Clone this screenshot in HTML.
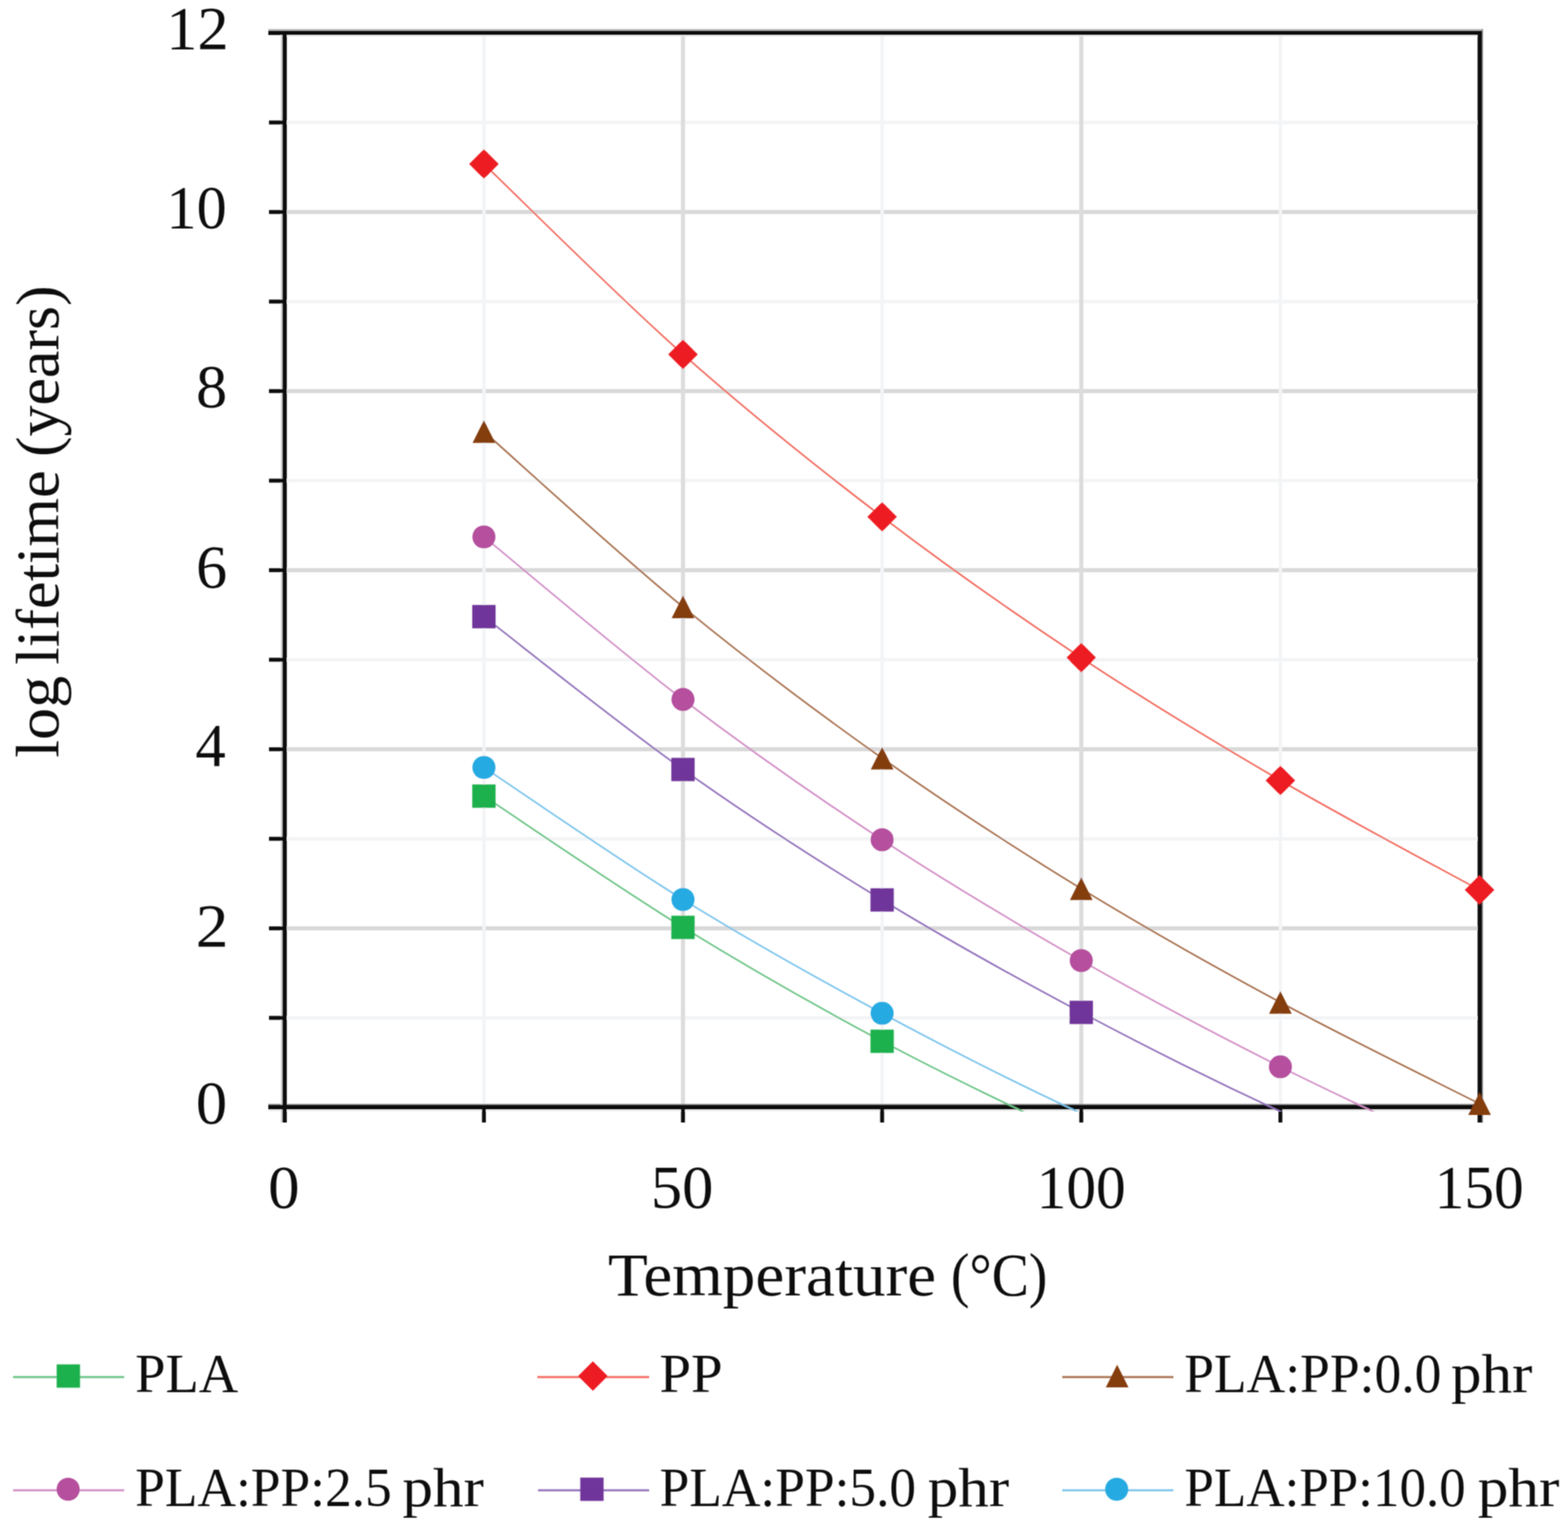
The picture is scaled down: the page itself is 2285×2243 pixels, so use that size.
<!DOCTYPE html><html><head><meta charset="utf-8"><style>html,body{margin:0;padding:0;background:#fff;}svg{display:block}</style></head><body>
<svg width="2285" height="2243" viewBox="0 0 2285 2243">
<rect width="2285" height="2243" fill="#fff"/>
<filter id="soft" x="0" y="0" width="2285" height="2243" filterUnits="userSpaceOnUse"><feConvolveMatrix order="3" kernelMatrix="1 2 1 2 4 2 1 2 1" divisor="16" edgeMode="duplicate"/></filter>
<g filter="url(#soft)">
<defs><clipPath id="pc"><rect x="415" y="40" width="1745" height="1580"/></clipPath></defs>
<line x1="418" x2="2153" y1="1353.0" y2="1353.0" stroke="#d9d9d9" stroke-width="6"/>
<line x1="418" x2="2153" y1="1092.0" y2="1092.0" stroke="#d9d9d9" stroke-width="6"/>
<line x1="418" x2="2153" y1="831.0" y2="831.0" stroke="#d9d9d9" stroke-width="6"/>
<line x1="418" x2="2153" y1="570.0" y2="570.0" stroke="#d9d9d9" stroke-width="6"/>
<line x1="418" x2="2153" y1="309.0" y2="309.0" stroke="#d9d9d9" stroke-width="6"/>
<line x1="418" x2="2153" y1="1483.5" y2="1483.5" stroke="#f3f4f6" stroke-width="5"/>
<line x1="418" x2="2153" y1="1222.5" y2="1222.5" stroke="#f3f4f6" stroke-width="5"/>
<line x1="418" x2="2153" y1="961.5" y2="961.5" stroke="#f3f4f6" stroke-width="5"/>
<line x1="418" x2="2153" y1="700.5" y2="700.5" stroke="#f3f4f6" stroke-width="5"/>
<line x1="418" x2="2153" y1="439.5" y2="439.5" stroke="#f3f4f6" stroke-width="5"/>
<line x1="418" x2="2153" y1="178.5" y2="178.5" stroke="#f3f4f6" stroke-width="5"/>
<line y1="51" y2="1611" x1="705.2" x2="705.2" stroke="#f3f4f6" stroke-width="5"/>
<line y1="51" y2="1611" x1="1285.5" x2="1285.5" stroke="#f3f4f6" stroke-width="5"/>
<line y1="51" y2="1611" x1="1865.9" x2="1865.9" stroke="#f3f4f6" stroke-width="5"/>
<line y1="51" y2="1611" x1="995.3" x2="995.3" stroke="#dcdcdc" stroke-width="6"/>
<line y1="51" y2="1611" x1="1575.7" x2="1575.7" stroke="#dcdcdc" stroke-width="6"/>
<rect x="391" y="42.3" width="1770" height="2.4" fill="#b8b8b8"/>
<rect x="412" y="50.9" width="1746" height="2.2" fill="#e6e6e6"/>
<rect x="391" y="1608.8" width="1770" height="1.6" fill="#8a8a8a"/>
<rect x="391" y="1617.0" width="1770" height="2.4" fill="#eaeaea"/>
<rect x="409.2" y="45" width="2.5" height="1591" fill="#d6d6d6"/>
<rect x="2159.3" y="42.3" width="1.9" height="1594" fill="#8e8e8e"/>
<path d="M391,47.8 H2159.2" stroke="#0c0c0c" stroke-width="6.3"/>
<path d="M391,1613.7 H2159.2" stroke="#0c0c0c" stroke-width="6.8"/>
<path d="M414.8,44.9 V1636" stroke="#0c0c0c" stroke-width="6.3"/>
<path d="M2156.5,44.9 V1636" stroke="#0c0c0c" stroke-width="6.6"/>
<path d="M392,1614.0 H415.0" stroke="#0c0c0c" stroke-width="5.7"/>
<path d="M392,1483.5 H415.0" stroke="#0c0c0c" stroke-width="5.7"/>
<path d="M392,1353.0 H415.0" stroke="#0c0c0c" stroke-width="5.7"/>
<path d="M392,1222.5 H415.0" stroke="#0c0c0c" stroke-width="5.7"/>
<path d="M392,1092.0 H415.0" stroke="#0c0c0c" stroke-width="5.7"/>
<path d="M392,961.5 H415.0" stroke="#0c0c0c" stroke-width="5.7"/>
<path d="M392,831.0 H415.0" stroke="#0c0c0c" stroke-width="5.7"/>
<path d="M392,700.5 H415.0" stroke="#0c0c0c" stroke-width="5.7"/>
<path d="M392,570.0 H415.0" stroke="#0c0c0c" stroke-width="5.7"/>
<path d="M392,439.5 H415.0" stroke="#0c0c0c" stroke-width="5.7"/>
<path d="M392,309.0 H415.0" stroke="#0c0c0c" stroke-width="5.7"/>
<path d="M392,178.5 H415.0" stroke="#0c0c0c" stroke-width="5.7"/>
<path d="M392,48.0 H415.0" stroke="#0c0c0c" stroke-width="5.7"/>
<path d="M705.2,1614.0 V1636" stroke="#0c0c0c" stroke-width="5.7"/>
<path d="M995.3,1614.0 V1636" stroke="#0c0c0c" stroke-width="5.7"/>
<path d="M1285.5,1614.0 V1636" stroke="#0c0c0c" stroke-width="5.7"/>
<path d="M1575.7,1614.0 V1636" stroke="#0c0c0c" stroke-width="5.7"/>
<path d="M1865.9,1614.0 V1636" stroke="#0c0c0c" stroke-width="5.7"/>
<g clip-path="url(#pc)" fill="none" stroke-width="2.4" stroke-linejoin="round">
<path d="M705.17,1160.25 C753.54,1192.14 898.62,1292.01 995.35,1351.56 C1092.07,1411.12 1188.80,1466.12 1285.53,1517.56 C1382.25,1569.00 1478.97,1614.76 1575.70,1660.20 C1672.42,1705.63 1817.51,1768.51 1865.88,1790.17" stroke="#6cc486"/>
<path d="M705.17,239.05 C753.54,285.27 898.62,430.67 995.35,516.36 C1092.07,602.06 1188.80,679.51 1285.53,753.22 C1382.25,826.93 1478.97,894.60 1575.70,958.63 C1672.42,1022.66 1769.15,1080.99 1865.88,1137.41 C1962.60,1193.83 2107.69,1270.52 2156.05,1297.15" stroke="#f26b5e"/>
<path d="M705.17,628.99 C753.54,671.59 898.62,805.29 995.35,884.64 C1092.07,963.98 1188.80,1036.60 1285.53,1105.05 C1382.25,1173.50 1478.97,1236.01 1575.70,1295.32 C1672.42,1354.63 1769.15,1408.70 1865.88,1460.92 C1962.60,1513.15 2107.69,1584.03 2156.05,1608.65" stroke="#a8714f"/>
<path d="M705.17,782.45 C753.54,821.95 898.62,945.86 995.35,1019.44 C1092.07,1093.02 1188.80,1160.51 1285.53,1223.94 C1382.25,1287.36 1478.97,1344.84 1575.70,1399.98 C1672.42,1455.12 1769.15,1506.03 1865.88,1554.75 C1962.60,1603.47 2107.69,1669.38 2156.05,1692.30" stroke="#d28ec6"/>
<path d="M705.17,898.73 C753.54,935.86 898.62,1052.68 995.35,1121.49 C1092.07,1190.31 1188.80,1252.62 1285.53,1311.63 C1382.25,1370.64 1478.97,1424.14 1575.70,1475.54 C1672.42,1526.93 1769.15,1575.18 1865.88,1620.00 C1962.60,1664.83 2107.69,1723.75 2156.05,1744.50" stroke="#9372bb"/>
<path d="M705.17,1118.49 C753.54,1150.57 898.62,1251.25 995.35,1310.98 C1092.07,1370.70 1188.80,1424.88 1285.53,1476.84 C1382.25,1528.81 1478.97,1578.13 1575.70,1622.74 C1672.42,1667.35 1817.51,1724.21 1865.88,1744.50" stroke="#7cc4ec"/>
</g>
<rect x="688.2" y="1143.3" width="34.0" height="34.0" fill="#1fb14d"/>
<rect x="978.3" y="1334.6" width="34.0" height="34.0" fill="#1fb14d"/>
<rect x="1268.5" y="1500.6" width="34.0" height="34.0" fill="#1fb14d"/>
<path d="M705.2,217.6L726.7,239.1L705.2,260.6L683.7,239.1Z" fill="#ed1c24"/>
<path d="M995.3,494.9L1016.8,516.4L995.3,537.9L973.8,516.4Z" fill="#ed1c24"/>
<path d="M1285.5,731.7L1307.0,753.2L1285.5,774.7L1264.0,753.2Z" fill="#ed1c24"/>
<path d="M1575.7,937.1L1597.2,958.6L1575.7,980.1L1554.2,958.6Z" fill="#ed1c24"/>
<path d="M1865.9,1115.9L1887.4,1137.4L1865.9,1158.9L1844.4,1137.4Z" fill="#ed1c24"/>
<path d="M2156.1,1275.6L2177.6,1297.1L2156.1,1318.6L2134.6,1297.1Z" fill="#ed1c24"/>
<path d="M705.2,612.5L721.7,645.5L688.7,645.5Z" fill="#843c10"/>
<path d="M995.3,868.1L1011.8,901.1L978.8,901.1Z" fill="#843c10"/>
<path d="M1285.5,1088.5L1302.0,1121.5L1269.0,1121.5Z" fill="#843c10"/>
<path d="M1575.7,1278.8L1592.2,1311.8L1559.2,1311.8Z" fill="#843c10"/>
<path d="M1865.9,1444.4L1882.4,1477.4L1849.4,1477.4Z" fill="#843c10"/>
<path d="M2156.1,1592.1L2172.6,1625.1L2139.6,1625.1Z" fill="#843c10"/>
<circle cx="705.2" cy="782.5" r="16.8" fill="#b5509e"/>
<circle cx="995.3" cy="1019.4" r="16.8" fill="#b5509e"/>
<circle cx="1285.5" cy="1223.9" r="16.8" fill="#b5509e"/>
<circle cx="1575.7" cy="1400.0" r="16.8" fill="#b5509e"/>
<circle cx="1865.9" cy="1554.8" r="16.8" fill="#b5509e"/>
<rect x="688.2" y="881.7" width="34.0" height="34.0" fill="#70369a"/>
<rect x="978.3" y="1104.5" width="34.0" height="34.0" fill="#70369a"/>
<rect x="1268.5" y="1294.6" width="34.0" height="34.0" fill="#70369a"/>
<rect x="1558.7" y="1458.5" width="34.0" height="34.0" fill="#70369a"/>
<circle cx="705.2" cy="1118.5" r="16.8" fill="#27aae2"/>
<circle cx="995.3" cy="1311.0" r="16.8" fill="#27aae2"/>
<circle cx="1285.5" cy="1476.8" r="16.8" fill="#27aae2"/>
<text style="font-family:'Liberation Serif',serif" fill="#0b0b0b" font-size="88.5" x="242.23" y="71.00" textLength="90.95" lengthAdjust="spacingAndGlyphs">12</text>
<text style="font-family:'Liberation Serif',serif" fill="#0b0b0b" font-size="88.5" x="242.60" y="331.80" textLength="87.91" lengthAdjust="spacingAndGlyphs">10</text>
<text style="font-family:'Liberation Serif',serif" fill="#0b0b0b" font-size="88.5" x="285.86" y="593.30" textLength="45.27" lengthAdjust="spacingAndGlyphs">8</text>
<text style="font-family:'Liberation Serif',serif" fill="#0b0b0b" font-size="88.5" x="285.74" y="856.30" textLength="45.30" lengthAdjust="spacingAndGlyphs">6</text>
<text style="font-family:'Liberation Serif',serif" fill="#0b0b0b" font-size="88.5" x="284.83" y="1115.80" textLength="44.16" lengthAdjust="spacingAndGlyphs">4</text>
<text style="font-family:'Liberation Serif',serif" fill="#0b0b0b" font-size="88.5" x="285.25" y="1379.30" textLength="47.66" lengthAdjust="spacingAndGlyphs">2</text>
<text style="font-family:'Liberation Serif',serif" fill="#0b0b0b" font-size="88.5" x="285.63" y="1637.30" textLength="45.51" lengthAdjust="spacingAndGlyphs">0</text>
<text style="font-family:'Liberation Serif',serif" fill="#0b0b0b" font-size="88.5" x="390.81" y="1760.30" textLength="45.87" lengthAdjust="spacingAndGlyphs">0</text>
<text style="font-family:'Liberation Serif',serif" fill="#0b0b0b" font-size="88.5" x="948.42" y="1760.30" textLength="91.18" lengthAdjust="spacingAndGlyphs">50</text>
<text style="font-family:'Liberation Serif',serif" fill="#0b0b0b" font-size="88.5" x="1510.66" y="1760.30" textLength="129.81" lengthAdjust="spacingAndGlyphs">100</text>
<text style="font-family:'Liberation Serif',serif" fill="#0b0b0b" font-size="88.5" x="2090.66" y="1760.30" textLength="129.81" lengthAdjust="spacingAndGlyphs">150</text>
<text style="font-family:'Liberation Serif',serif" fill="#0b0b0b" font-size="89.5" x="886.09" y="1888.00" textLength="478.09" lengthAdjust="spacingAndGlyphs">Temperature</text>
<text style="font-family:'Liberation Serif',serif" fill="#0b0b0b" font-size="89.5" x="1385.74" y="1888.00" textLength="140.65" lengthAdjust="spacingAndGlyphs">(°C)</text>
<text style="font-family:'Liberation Serif',serif" fill="#0b0b0b" font-size="81" x="197.08" y="2029.00" textLength="149.85" lengthAdjust="spacingAndGlyphs">PLA</text>
<text style="font-family:'Liberation Serif',serif" fill="#0b0b0b" font-size="81" x="960.95" y="2029.00" textLength="92.12" lengthAdjust="spacingAndGlyphs">PP</text>
<text style="font-family:'Liberation Serif',serif" fill="#0b0b0b" font-size="81" x="1725.63" y="2029.00" textLength="374.82" lengthAdjust="spacingAndGlyphs">PLA:PP:0.0</text>
<text style="font-family:'Liberation Serif',serif" fill="#0b0b0b" font-size="81" x="2114.63" y="2029.00" textLength="118.40" lengthAdjust="spacingAndGlyphs">phr</text>
<text style="font-family:'Liberation Serif',serif" fill="#0b0b0b" font-size="81" x="197.04" y="2194.50" textLength="373.92" lengthAdjust="spacingAndGlyphs">PLA:PP:2.5</text>
<text style="font-family:'Liberation Serif',serif" fill="#0b0b0b" font-size="81" x="586.40" y="2194.50" textLength="118.67" lengthAdjust="spacingAndGlyphs">phr</text>
<text style="font-family:'Liberation Serif',serif" fill="#0b0b0b" font-size="81" x="961.25" y="2194.50" textLength="373.69" lengthAdjust="spacingAndGlyphs">PLA:PP:5.0</text>
<text style="font-family:'Liberation Serif',serif" fill="#0b0b0b" font-size="81" x="1352.02" y="2194.50" textLength="118.50" lengthAdjust="spacingAndGlyphs">phr</text>
<text style="font-family:'Liberation Serif',serif" fill="#0b0b0b" font-size="81" x="1726.03" y="2194.50" textLength="409.93" lengthAdjust="spacingAndGlyphs">PLA:PP:10.0</text>
<text style="font-family:'Liberation Serif',serif" fill="#0b0b0b" font-size="81" x="2153.47" y="2194.50" textLength="119.06" lengthAdjust="spacingAndGlyphs">phr</text>
<text style="font-family:'Liberation Serif',serif" fill="#0b0b0b" font-size="88" transform="translate(85.00,1104.50) rotate(-90)" textLength="119.68" lengthAdjust="spacingAndGlyphs">log</text>
<text style="font-family:'Liberation Serif',serif" fill="#0b0b0b" font-size="88" transform="translate(85.00,968.66) rotate(-90)" textLength="283.26" lengthAdjust="spacingAndGlyphs">lifetime</text>
<text style="font-family:'Liberation Serif',serif" fill="#0b0b0b" font-size="88" transform="translate(85.00,666.10) rotate(-90)" textLength="250.18" lengthAdjust="spacingAndGlyphs">(years)</text>
<line x1="19" x2="181" y1="2006.9" y2="2006.9" stroke="#6cc486" stroke-width="3"/>
<rect x="82.6" y="1988.5" width="34.0" height="34.0" fill="#1fb14d"/>
<line x1="783" x2="946" y1="2006.9" y2="2006.9" stroke="#f26b5e" stroke-width="3"/>
<path d="M864.0,1984.0L885.5,2005.5L864.0,2027.0L842.5,2005.5Z" fill="#ed1c24"/>
<line x1="1548" x2="1710" y1="2006.9" y2="2006.9" stroke="#a8714f" stroke-width="3"/>
<path d="M1628.0,1989.0L1644.5,2022.0L1611.5,2022.0Z" fill="#843c10"/>
<line x1="19" x2="181" y1="2171.9" y2="2171.9" stroke="#d28ec6" stroke-width="3"/>
<circle cx="99.3" cy="2170.5" r="16.8" fill="#b5509e"/>
<line x1="784" x2="946" y1="2171.9" y2="2171.9" stroke="#9372bb" stroke-width="3"/>
<rect x="845.6" y="2153.5" width="34.0" height="34.0" fill="#70369a"/>
<line x1="1548" x2="1710" y1="2171.9" y2="2171.9" stroke="#7cc4ec" stroke-width="3"/>
<circle cx="1627.3" cy="2170.5" r="16.8" fill="#27aae2"/>
</g></svg></body></html>
